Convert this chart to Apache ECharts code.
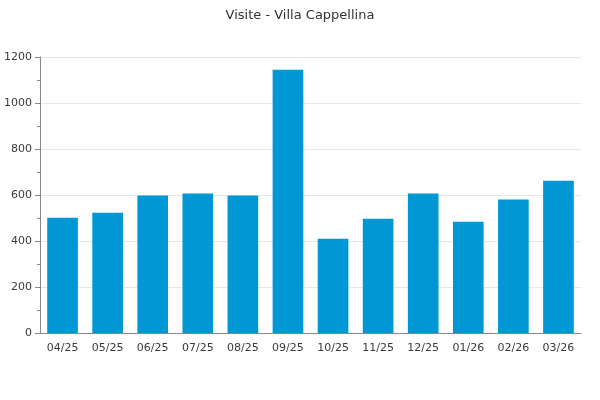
<!DOCTYPE html>
<html><head><meta charset="utf-8">
<script src="https://cdn.jsdelivr.net/npm/echarts@6/dist/echarts.min.js"></script>
<style>html,body{margin:0;padding:0;background:#fff}#c{width:600px;height:400px}</style>
</head><body><div id="c"></div>
<script>
const categories = ['04/25','05/25','06/25','07/25','08/25','09/25','10/25','11/25','12/25','01/26','02/26','03/26'];
const visits = [501, 523, 598, 607, 598, 1145, 410, 497, 606, 484, 580, 662];
const chartTitle = 'Visite - Villa Cappellina';

const chart = echarts.init(document.getElementById('c'), null, {renderer:'canvas'});
chart.setOption({
  animation: false,
  backgroundColor: '#fff',
  title: {
    text: chartTitle, left: 'center', top: 4,
    textStyle: {fontFamily: 'DejaVu Sans', fontSize: 13, fontWeight: 'normal', color: '#333'}
  },
  grid: {left: 40, right: 19, top: 57, bottom: 67, containLabel: false},
  xAxis: {
    type: 'category', data: categories,
    axisLine: {lineStyle: {color: '#888', width: 1}},
    axisTick: {show: false},
    axisLabel: {fontFamily: 'DejaVu Sans', fontSize: 11, color: '#3a3a3a', margin: 10}
  },
  yAxis: {
    type: 'value', min: 0, max: 1200, interval: 200,
    axisLine: {show: true, lineStyle: {color: '#888', width: 1}},
    axisTick: {show: true, length: 5, lineStyle: {color: '#888'}},
    minorTick: {show: true, splitNumber: 2, length: 3, lineStyle: {color: '#888'}},
    splitLine: {lineStyle: {color: '#e6e6e6'}},
    axisLabel: {fontFamily: 'DejaVu Sans', fontSize: 11, color: '#3a3a3a', margin: 8,
      formatter: v => String(v)}
  },
  series: [{
    type: 'bar', data: visits, barWidth: '68%',
    itemStyle: {color: '#0097D5'}
  }]
});
</script></body></html>
